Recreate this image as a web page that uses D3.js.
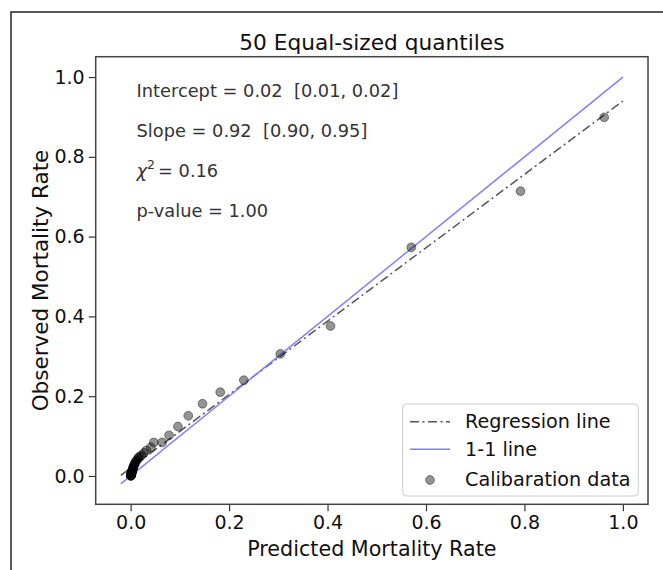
<!DOCTYPE html>
<html>
<head>
<meta charset="utf-8">
<script src="https://cdn.jsdelivr.net/npm/d3@7"></script>
<style>
body { margin: 0; background: #fff; }
svg { font-family: "DejaVu Sans", sans-serif; }
</style>
</head>
<body>
<div class="calib-plot"></div>
<script>
// Calibration data (50 equal-sized quantiles)
const predicted = [0.962, 0.792, 0.570, 0.406, 0.304, 0.230, 0.182, 0.146, 0.117, 0.096,
    0.078, 0.064, 0.047, 0.041, 0.032, 0.027, 0.022, 0.019, 0.016, 0.014,
    0.012, 0.010, 0.009, 0.008, 0.007, 0.006, 0.005, 0.005, 0.004, 0.004,
    0.003, 0.003, 0.003, 0.002, 0.002, 0.002, 0.002, 0.001, 0.001, 0.001,
    0.001, 0.001, 0.001, 0.001, 0.001, 0.0005, 0.0005, 0.0005, 0.0003, 0.0002]
const observed = [0.899, 0.714, 0.573, 0.376, 0.306, 0.240, 0.210, 0.181, 0.151, 0.124,
    0.102, 0.084, 0.084, 0.072, 0.064, 0.058, 0.052, 0.048, 0.047, 0.042,
    0.038, 0.036, 0.032, 0.030, 0.027, 0.024, 0.022, 0.019, 0.017, 0.015,
    0.013, 0.012, 0.010, 0.009, 0.008, 0.007, 0.006, 0.005, 0.005, 0.004,
    0.004, 0.003, 0.003, 0.002, 0.002, 0.002, 0.001, 0.001, 0.001, 0.000]

// line end points
const regLineX = [-0.02, 1.0]
const regLineY = [0.0016, 0.94]
const oneLineX = [-0.02, 1.0]
const oneLineY = [-0.02, 1.0]

const xTicks = [0, 0.2, 0.4, 0.6, 0.8, 1.0]
const yTicks = [0, 0.2, 0.4, 0.6, 0.8, 1.0]
const statLabels = ["Intercept = 0.02\u00a0 [0.01, 0.02]", "Slope = 0.92\u00a0 [0.90, 0.95]", "chi", "p-value = 1.00"]
const statY = [0.95, 0.85, 0.75, 0.65]
const legendLabels = ["Regression line", "1-1 line", "Calibaration data"]

const width = 663
const height = 570
const plot = { left: 95.7, right: 648, top: 56.7, bottom: 504.3 }

let xCal = d3.scaleLinear()
    .domain([-0.071, 1.051])
    .range([plot.left, plot.right])
let yCal = d3.scaleLinear()
    .domain([-0.071, 1.051])
    .range([plot.bottom, plot.top])

let svgCal = d3.select(".calib-plot")
    .append("svg")
    .attr("width", width)
    .attr("height", height)

// figure frame (runs off the right and bottom edge)
svgCal.append("path")
    .attr("d", `M11,${height + 5}V12H${width + 5}`)
    .attr("fill", "none")
    .attr("stroke", "#222")
    .attr("stroke-width", 1.5)

// title
svgCal.append("text")
    .text("50 Equal-sized quantiles")
    .attr("x", (plot.left + plot.right) / 2)
    .attr("y", 50)
    .attr("text-anchor", "middle")
    .attr("font-size", 21.7)
    .attr("fill", "#111")

// axes
const xAxisCal = d3.axisBottom(xCal)
    .tickValues(xTicks)
    .tickFormat(d3.format(".1f"))
    .tickSize(7)
    .tickPadding(4)
const yAxisCal = d3.axisLeft(yCal)
    .tickValues(yTicks)
    .tickFormat(d3.format(".1f"))
    .tickSize(7)
    .tickPadding(4)

svgCal.append("g")
    .attr("transform", `translate(0, ${plot.bottom})`)
    .call(xAxisCal)
    .call(g => g.select(".domain").remove())
    .call(g => g.selectAll("text").attr("font-size", 19).attr("fill", "#111").attr("font-family", "DejaVu Sans"))
    .call(g => g.selectAll("line").attr("stroke", "#333").attr("stroke-width", 1.2))

svgCal.append("g")
    .attr("transform", `translate(${plot.left}, 0)`)
    .call(yAxisCal)
    .call(g => g.select(".domain").remove())
    .call(g => g.selectAll("text").attr("font-size", 19).attr("fill", "#111").attr("font-family", "DejaVu Sans"))
    .call(g => g.selectAll("line").attr("stroke", "#333").attr("stroke-width", 1.2))

// axis labels
svgCal.append("text")
    .text("Predicted Mortality Rate")
    .attr("x", (plot.left + plot.right) / 2)
    .attr("y", 556)
    .attr("text-anchor", "middle")
    .attr("font-size", 20.7)
    .attr("fill", "#111")

svgCal.append("text")
    .text("Observed Mortality Rate")
    .attr("transform", `translate(48, ${(plot.top + plot.bottom) / 2})rotate(-90)`)
    .attr("text-anchor", "middle")
    .attr("font-size", 21.5)
    .attr("fill", "#111")

// regression line + 1-1 line
const lineCal = d3.line()
    .x(d => xCal(d[0]))
    .y(d => yCal(d[1]))

svgCal.append("path")
    .attr("d", lineCal(d3.zip(regLineX, regLineY)))
    .attr("fill", "none")
    .attr("stroke", "#555")
    .attr("stroke-width", 1.5)
    .attr("stroke-dasharray", "9,3.5,2,3.5")

svgCal.append("path")
    .attr("d", lineCal(d3.zip(oneLineX, oneLineY)))
    .attr("fill", "none")
    .attr("stroke", "#8080ff")
    .attr("stroke-width", 1.5)

// points
svgCal.append("g")
    .selectAll("circle")
    .data(d3.zip(predicted, observed))
    .join("circle")
    .attr("cx", d => xCal(d[0]))
    .attr("cy", d => yCal(d[1]))
    .attr("r", 4.4)
    .attr("fill", "rgba(0,0,0,0.42)")
    .attr("stroke", "rgba(0,0,0,0.42)")
    .attr("stroke-width", 1)

// spines
svgCal.append("rect")
    .attr("x", plot.left)
    .attr("y", plot.top)
    .attr("width", plot.right - plot.left)
    .attr("height", plot.bottom - plot.top)
    .attr("fill", "none")
    .attr("stroke", "#444")
    .attr("stroke-width", 1.5)

// stats text
const statG = svgCal.append("g")
    .attr("font-size", 17.8)
    .attr("fill", "#333")

statLabels.forEach((s, i) => {
    const t = statG.append("text")
        .attr("x", xCal(0.012))
        .attr("y", yCal(statY[i]))
    if (s === "chi") {
        t.append("tspan").text("χ").attr("font-style", "italic")
        t.append("tspan").text("2").attr("font-size", 12.5).attr("dy", -8)
        t.append("tspan").text("= 0.16").attr("dy", 8).attr("dx", 3)
    } else {
        t.text(s)
    }
})

// legend
const legendCal = svgCal.append("g")
    .attr("transform", "translate(402.7, 404)")

legendCal.append("rect")
    .attr("width", 235.6)
    .attr("height", 92)
    .attr("rx", 4)
    .attr("fill", "rgba(255,255,255,0.8)")
    .attr("stroke", "#ccc")
    .attr("stroke-width", 1)

const rowY = [17.7, 45.3, 75]

legendCal.append("line")
    .attr("x1", 7.3).attr("x2", 47.3)
    .attr("y1", rowY[0]).attr("y2", rowY[0])
    .attr("stroke", "#555")
    .attr("stroke-width", 1.5)
    .attr("stroke-dasharray", "9,3.5,2,3.5")

legendCal.append("line")
    .attr("x1", 7.3).attr("x2", 47.3)
    .attr("y1", rowY[1]).attr("y2", rowY[1])
    .attr("stroke", "#8080ff")
    .attr("stroke-width", 1.5)

legendCal.append("circle")
    .attr("cx", 27.3)
    .attr("cy", rowY[2] + 1)
    .attr("r", 4.4)
    .attr("fill", "rgba(0,0,0,0.42)")
    .attr("stroke", "rgba(0,0,0,0.42)")

legendCal.selectAll("text.leg")
    .data(legendLabels)
    .join("text")
    .attr("class", "leg")
    .text(d => d)
    .attr("x", 62.3)
    .attr("y", (d, i) => rowY[i] + 6.5)
    .attr("font-size", 19.2)
    .attr("fill", "#111")
</script>
</body>
</html>
